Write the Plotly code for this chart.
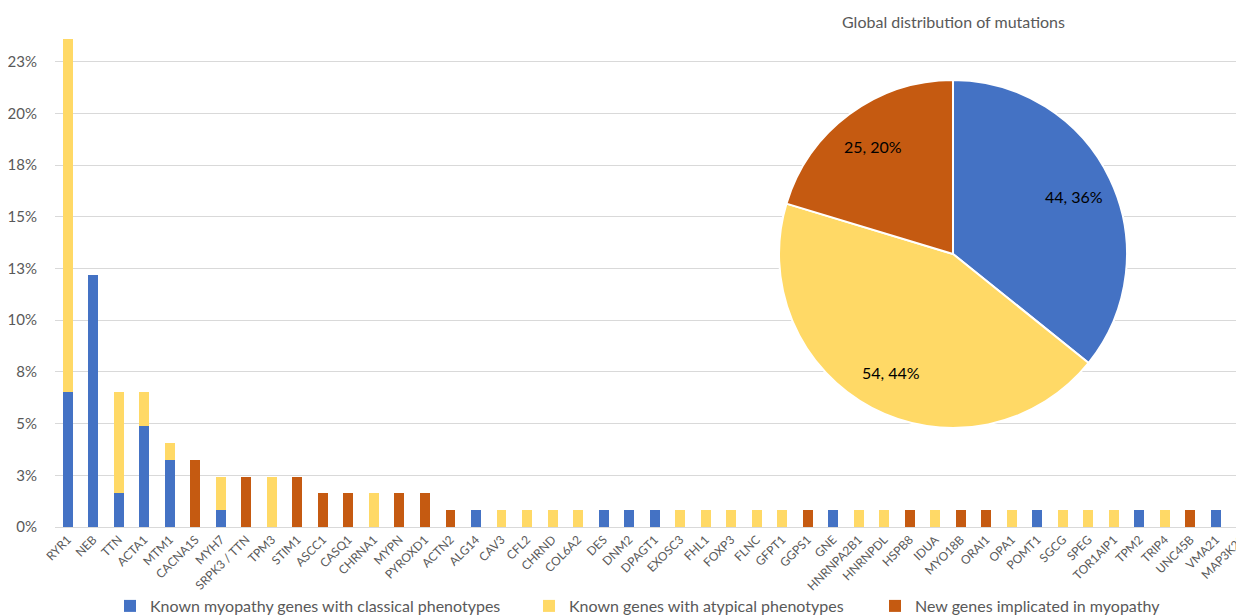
import math
import plotly.graph_objects as go

genes = ["RYR1", "NEB", "TTN", "ACTA1", "MTM1", "CACNA1S", "MYH7", "SRPK3 / TTN", "TPM3", "STIM1",
         "ASCC1", "CASQ1", "CHRNA1", "MYPN", "PYROXD1", "ACTN2", "ALG14", "CAV3", "CFL2", "CHRND",
         "COL6A2", "DES", "DNM2", "DPAGT1", "EXOSC3", "FHL1", "FOXP3", "FLNC", "GFPT1", "GGPS1",
         "GNE", "HNRNPA2B1", "HNRNPDL", "HSPB8", "IDUA", "MYO18B", "ORAI1", "OPA1", "POMT1", "SGCG",
         "SPEG", "TOR1AIP1", "TPM2", "TRIP4", "UNC45B", "VMA21", "MAP3K20"]

classical = [8, 15, 2, 6, 4, 0, 1, 0, 0, 0,
             0, 0, 0, 0, 0, 0, 1, 0, 0, 0,
             0, 1, 1, 1, 0, 0, 0, 0, 0, 0,
             1, 0, 0, 0, 0, 0, 0, 0, 1, 0,
             0, 0, 1, 0, 0, 1, 0]
atypical = [21, 0, 6, 2, 1, 0, 2, 0, 3, 0,
            0, 0, 2, 0, 0, 0, 0, 1, 1, 1,
            1, 0, 0, 0, 1, 1, 1, 1, 1, 0,
            0, 1, 1, 0, 1, 0, 0, 1, 0, 1,
            1, 1, 0, 1, 0, 0, 0]
new_genes = [0, 0, 0, 0, 0, 4, 0, 3, 0, 3,
             2, 2, 0, 2, 2, 1, 0, 0, 0, 0,
             0, 0, 0, 0, 0, 0, 0, 0, 0, 1,
             0, 0, 0, 1, 0, 1, 1, 0, 0, 0,
             0, 0, 0, 0, 1, 0, 1]

series_names = ["Known myopathy genes with classical phenotypes",
                "Known genes with atypical phenotypes",
                "New genes implicated in myopathy"]
colors = ["#4472C4", "#FFD966", "#C55A11"]

y_tick_vals = [0, 0.025, 0.05, 0.075, 0.10, 0.125, 0.15, 0.175, 0.20, 0.225]
y_tick_text = [f"{math.floor(v * 100 + 0.5 + 1e-9)}%" for v in y_tick_vals]

pie_title = "Global distribution of mutations"

total = sum(classical) + sum(atypical) + sum(new_genes)
series_counts = [classical, atypical, new_genes]
pie_values = [sum(s) for s in series_counts]

TXT = "#595959"
FONT = "Lato"

# the page body adds an 8px offset, so the figure is 8px smaller than the window
OFF = 8
W, H = 1244 - OFF, 616 - OFF
ML, MR, MT, MB = 55 - OFF, 0, 12 - OFF, 89
PW, PH = W - ML - MR, H - MT - MB


def px_x(x_img):
    return (x_img - OFF - ML) / PW


def px_y(y_img):
    return (MT + PH - (y_img - OFF)) / PH


legend_ids = ["legend", "legend2", "legend3"]
legend_left_px = [110, 529, 875]

fig = go.Figure()
for name, counts, col, lid in zip(series_names, series_counts, colors, legend_ids):
    fig.add_trace(go.Bar(
        x=genes, y=[c / total for c in counts], name=name, legend=lid,
        marker=dict(color=col, line=dict(width=0)), width=0.39,
    ))

pie_dom_x = [px_x(779), px_x(1127)]
pie_dom_y = [px_y(428), px_y(80)]
fig.add_trace(go.Pie(
    values=pie_values, labels=series_names, sort=False, direction="clockwise", rotation=0,
    marker=dict(colors=colors, line=dict(color="white", width=2)),
    textinfo="none",
    domain=dict(x=pie_dom_x, y=pie_dom_y),
    showlegend=False, automargin=False, hoverinfo="label+value+percent",
))

# pie labels placed at each slice's mid-angle
cx = (pie_dom_x[0] + pie_dom_x[1]) / 2
cy = (pie_dom_y[0] + pie_dom_y[1]) / 2
radius_px = min((pie_dom_x[1] - pie_dom_x[0]) * PW, (pie_dom_y[1] - pie_dom_y[0]) * PH) / 2
pie_total = sum(pie_values)
start = 0.0
for v in pie_values:
    frac = v / pie_total
    mid = (start + frac / 2) * 2 * math.pi
    start += frac
    r = 0.77 * radius_px
    fig.add_annotation(
        x=cx + r * math.sin(mid) / PW, y=cy + r * math.cos(mid) / PH, xref="paper", yref="paper",
        xanchor="center", yanchor="middle",
        text=f"{v}, {round(frac * 100)}%", showarrow=False,
        font=dict(family=FONT, size=16, color="#000000"),
    )

fig.add_annotation(text=pie_title, x=px_x(953), y=px_y(22), xref="paper", yref="paper",
                   xanchor="center", yanchor="middle",
                   showarrow=False, font=dict(family=FONT, size=16, color=TXT))

legend_style = dict(orientation="h", xanchor="left", yanchor="top", y=px_y(589),
                    font=dict(family=FONT, size=16, color=TXT), bgcolor="rgba(0,0,0,0)")

fig.update_layout(
    width=W, height=H,
    margin=dict(l=ML, r=MR, t=MT, b=MB, autoexpand=False),
    barmode="stack",
    plot_bgcolor="white", paper_bgcolor="white",
    font=dict(family=FONT, color=TXT),
    legend=dict(x=px_x(legend_left_px[0]), **legend_style),
    legend2=dict(x=px_x(legend_left_px[1]), **legend_style),
    legend3=dict(x=px_x(legend_left_px[2]), **legend_style),
    xaxis=dict(range=[-0.5, 46.1], tickangle=-45, tickfont=dict(family=FONT, size=12, color=TXT),
               showline=True, linecolor="#D9D9D9", linewidth=1, showgrid=False, ticks="",
               automargin=False),
    yaxis=dict(range=[0, 0.249], tickvals=y_tick_vals, ticktext=y_tick_text,
               tickfont=dict(family=FONT, size=15, color=TXT), showgrid=True, gridcolor="#D9D9D9",
               gridwidth=1, zeroline=False, showline=False, ticks="outside", ticklen=14,
               tickcolor="rgba(0,0,0,0)", automargin=False),
)

fig.write_html("out.html")
